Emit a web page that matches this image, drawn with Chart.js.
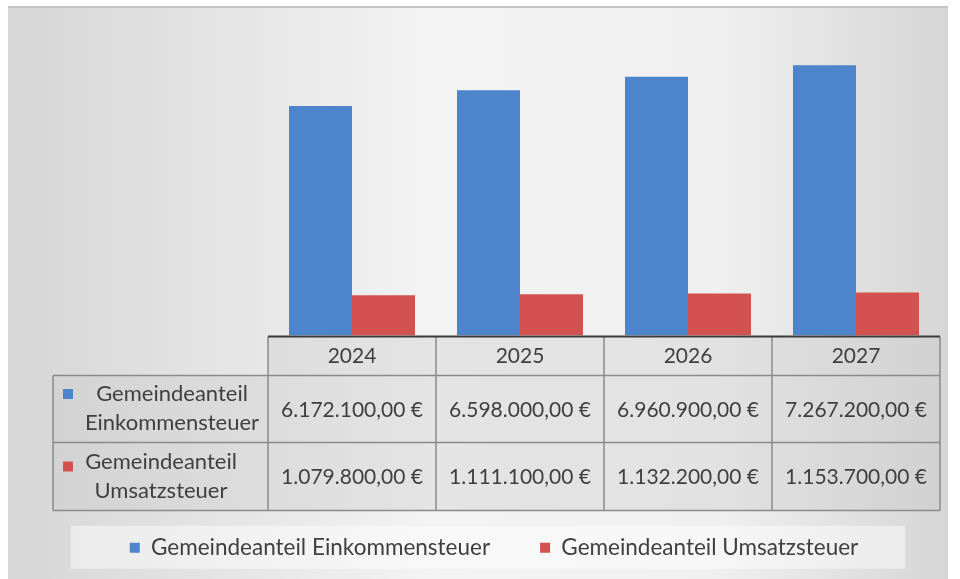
<!DOCTYPE html>
<html>
<head>
<meta charset="utf-8">
<script src="https://cdn.jsdelivr.net/npm/chart.js@4.4.1/dist/chart.umd.min.js"></script>
<style>
  html, body { margin: 0; padding: 0; background: #ffffff; }
  #wrap { width: 960px; height: 579px; }
</style>
</head>
<body>
<div id="wrap"><canvas id="steuerChart" width="960" height="579"></canvas></div>
<script>
// data
const years = ['2024', '2025', '2026', '2027'];
const einkommensteuer = [6172100, 6598000, 6960900, 7267200];
const umsatzsteuer = [1079800, 1111100, 1132200, 1153700];
const seriesNames = ['Gemeindeanteil Einkommensteuer', 'Gemeindeanteil Umsatzsteuer'];
const rowLabels = [['Gemeindeanteil', 'Einkommensteuer'], ['Gemeindeanteil', 'Umsatzsteuer']];
const colors = ['#4e84cb', '#d3524f'];

const FONT = 'Lato';
const TEXT = '#3f3f3f';

function euro(v) {
    const parts = v.toFixed(2).split('.');
    const int = parts[0].replace(/\B(?=(\d{3})+(?!\d))/g, '.');
    return int + ',' + parts[1] + ' €';
}

// background + data table
const tablePlugin = {
    id: 'tablePlugin',
    beforeDraw(chart) {
        const ctx = chart.ctx;
        ctx.save();
        const g = ctx.createLinearGradient(8, 0, 948, 0);
        g.addColorStop(0, '#d6d6d6');
        g.addColorStop(0.45, '#f3f3f3');
        g.addColorStop(0.75, '#f0f0f0');
        g.addColorStop(1, '#d6d6d6');
        ctx.fillStyle = g;
        ctx.fillRect(8, 6, 940, 573);
        ctx.fillStyle = '#c4c4c4';
        ctx.fillRect(8, 6, 940, 2);

        // legend box
        const boxes = chart.legend.legendHitBoxes;
        if (boxes && boxes.length) {
            const l = boxes[0].left - 59;
            const r = boxes[boxes.length - 1].left + boxes[boxes.length - 1].width + 47;
            const cy = boxes[0].top + boxes[0].height / 2;
            ctx.fillStyle = 'rgba(255,255,255,0.45)';
            ctx.fillRect(l, cy - 22, r - l, 43);
        }
        ctx.restore();
    },
    afterDraw(chart) {
        const ctx = chart.ctx;
        const area = chart.chartArea;
        const x = chart.scales.x;
        const n = years.length;
        const colW = (area.right - area.left) / n;
        const top = area.bottom + 1;
        const rows = [top, top + 39, top + 106, top + 174];
        const labelLeft = 53;
        ctx.save();

        // cell fill
        ctx.fillStyle = 'rgba(200,200,200,0.35)';
        ctx.fillRect(area.left, rows[0], area.right - area.left, rows[1] - rows[0]);
        ctx.fillRect(labelLeft, rows[1], area.right - labelLeft, rows[3] - rows[1]);

        // grid
        ctx.strokeStyle = '#8a8a8a';
        ctx.lineWidth = 1.5;
        ctx.beginPath();
        for (let r = 1; r < rows.length; r++) {
            ctx.moveTo(labelLeft, rows[r]);
            ctx.lineTo(area.right, rows[r]);
        }
        for (let i = 0; i <= n; i++) {
            const cx = area.left + i * colW;
            ctx.moveTo(cx, rows[0]);
            ctx.lineTo(cx, rows[3]);
        }
        ctx.moveTo(labelLeft, rows[1]);
        ctx.lineTo(labelLeft, rows[3]);
        ctx.stroke();

        // axis line
        ctx.strokeStyle = '#3a3a3a';
        ctx.lineWidth = 2;
        ctx.beginPath();
        ctx.moveTo(area.left, area.bottom + 1);
        ctx.lineTo(area.right, area.bottom + 1);
        ctx.stroke();

        // texts
        ctx.fillStyle = TEXT;
        ctx.textAlign = 'center';
        ctx.textBaseline = 'middle';
        ctx.font = '21px ' + FONT;
        const series = [einkommensteuer, umsatzsteuer];
        years.forEach((y, i) => {
            const cx = x.getPixelForValue(i);
            ctx.fillText(y, cx, (rows[0] + rows[1]) / 2);
            series.forEach((s, j) => {
                ctx.fillText(euro(s[i]), cx, (rows[j + 1] + rows[j + 2]) / 2 + 1);
            });
        });

        // row labels
        ctx.font = '22px ' + FONT;
        const centers = [172, 161];
        rowLabels.forEach((lines, j) => {
            const mid = (rows[j + 1] + rows[j + 2]) / 2;
            ctx.fillStyle = TEXT;
            ctx.fillText(lines[0], centers[j], mid - 15);
            ctx.fillText(lines[1], centers[j], mid + 14);
            ctx.fillStyle = colors[j];
            ctx.fillRect(63, mid - 20 + j * 5, 10, 10);
        });
        ctx.restore();
    }
};

const ctx = document.getElementById('steuerChart').getContext('2d');
new Chart(ctx, {
    type: 'bar',
    data: {
        labels: years,
        datasets: [
            {
                label: seriesNames[0],
                data: einkommensteuer,
                backgroundColor: colors[0],
                categoryPercentage: 0.75,
                barPercentage: 1.0
            },
            {
                label: seriesNames[1],
                data: umsatzsteuer,
                backgroundColor: colors[1],
                categoryPercentage: 0.75,
                barPercentage: 1.0
            }
        ]
    },
    options: {
        responsive: false,
        animation: false,
        layout: { padding: { left: 48, right: 20, top: 38, bottom: 10 } },
        scales: {
            x: {
                ticks: { display: false },
                grid: { display: false },
                border: { display: false },
                afterFit(axis) { axis.height = 151; }
            },
            y: {
                min: 0,
                max: 8000000,
                ticks: { display: false },
                grid: { display: false },
                border: { display: false },
                afterFit(axis) { axis.width = 220; }
            }
        },
        plugins: {
            legend: {
                position: 'bottom',
                labels: {
                    font: { family: FONT, size: 22.5 },
                    color: TEXT,
                    boxWidth: 10,
                    boxHeight: 10,
                    padding: 50
                }
            },
            tooltip: { enabled: false }
        }
    },
    plugins: [tablePlugin]
});
</script>
</body>
</html>
